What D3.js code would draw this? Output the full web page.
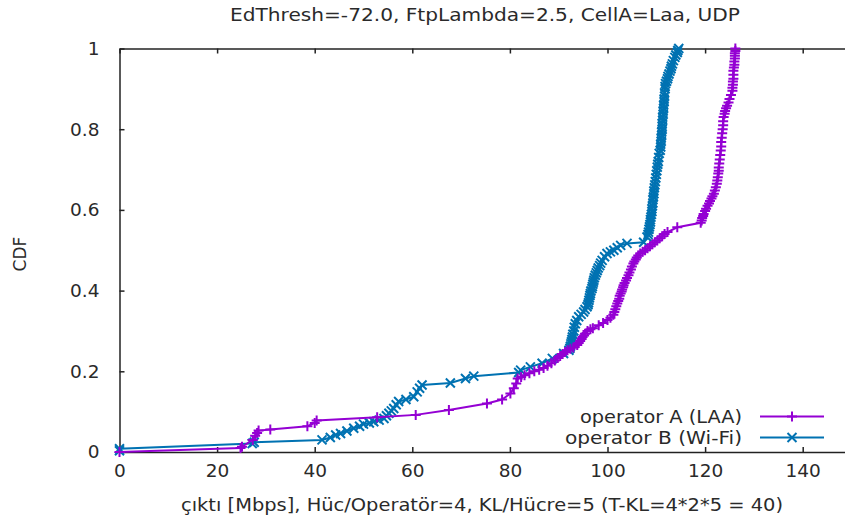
<!DOCTYPE html>
<html>
<head>
<meta charset="utf-8">
<script src="https://cdn.jsdelivr.net/npm/d3@7"></script>
<style>
  body { margin: 0; background: #fff; }
  text { font-family: "DejaVu Sans", sans-serif; fill: #2a2a2a; }
</style>
</head>
<body>
<script>
// CDF of throughput per operator

// operator A (LAA): throughput [Mbps] and CDF value
let laaX = [0, 24.8, 25.1, 27.3, 27.8, 28.2, 28.5, 30.9, 38.5, 40.0, 40.4, 52.8, 60.7, 67.5, 75.3, 78.4,
  80.1, 80.8, 81.3, 81.6, 82.3, 83.0, 84.0, 85.0, 86.0, 86.9, 87.7, 88.5, 89.2, 89.8, 90.3, 90.8, 91.3, 91.8,
  92.4, 93.0, 93.8, 94.1, 94.4, 94.7, 94.9, 95.2, 95.4, 95.9, 96.5, 97.0, 98.2, 99.1, 100.0, 100.6, 101.2,
  101.4, 101.6, 101.8, 102.0, 102.2, 102.4, 102.5, 102.7, 102.9, 103.0, 103.2, 103.3, 103.5, 103.8, 104.0,
  104.3, 104.5, 104.8, 105.0, 105.3, 105.5, 105.8, 106.0, 106.3, 106.7, 107.2, 107.7, 108.2, 108.7, 109.2,
  109.7, 110.2, 110.7, 111.2, 111.7, 112.3, 114.3,
  119.1, 119.3, 119.4, 119.6, 119.7, 120.0, 120.2, 120.5, 120.8, 121.0, 121.3, 121.5, 121.8, 122.0, 122.2,
  122.4, 122.5, 122.6, 122.7, 122.8, 122.8, 122.9, 123.0, 123.1, 123.2, 123.3, 123.3, 123.4, 123.5, 123.6,
  123.7, 123.7, 123.8, 124.0, 124.1, 124.3, 124.5, 124.8, 125.0, 125.3, 125.6, 125.6, 125.7, 125.7, 125.8,
  125.8, 125.8, 125.9, 126.0, 126.0, 126.1, 126.1, 126.1, 126.2, 126.2];
let laaY = [0, 0.01, 0.013, 0.03, 0.04, 0.047, 0.053, 0.056, 0.064, 0.072, 0.078, 0.086, 0.092, 0.104, 0.12, 0.13,
  0.145, 0.158, 0.17, 0.182, 0.186, 0.19, 0.195, 0.2, 0.204, 0.208, 0.214, 0.22, 0.227, 0.233, 0.238, 0.243, 0.248, 0.252,
  0.256, 0.259, 0.265, 0.27, 0.275, 0.28, 0.285, 0.289, 0.293, 0.30, 0.304, 0.307, 0.314, 0.32, 0.327, 0.333, 0.34,
  0.347, 0.354, 0.361, 0.368, 0.374, 0.38, 0.387, 0.393, 0.398, 0.403, 0.408, 0.413, 0.419, 0.425, 0.431,
  0.438, 0.445, 0.452, 0.46, 0.467, 0.472, 0.477, 0.482, 0.487, 0.492, 0.496, 0.5, 0.505, 0.51, 0.515,
  0.52, 0.524, 0.53, 0.535, 0.54, 0.545, 0.557,
  0.568, 0.574, 0.58, 0.585, 0.59, 0.597, 0.603, 0.61, 0.616, 0.622, 0.628, 0.634, 0.64, 0.648, 0.656,
  0.665, 0.673, 0.681, 0.69, 0.697, 0.705, 0.715, 0.725, 0.736, 0.747, 0.757, 0.768, 0.779, 0.79, 0.8,
  0.81, 0.82, 0.83, 0.838, 0.845, 0.852, 0.858, 0.866, 0.875, 0.885, 0.895, 0.903, 0.91, 0.918, 0.925,
  0.935, 0.945, 0.953, 0.96, 0.968, 0.975, 0.982, 0.988, 0.994, 1.0];

// operator B (Wi-Fi)
let wifiX = [0, 0, 27.2, 27.6, 41.5, 43.2, 44.3, 45.3, 46.6, 48.0, 49.2, 50.0, 51.2, 52.1, 53.2, 54.2,
  54.7, 55.2, 55.7, 56.2, 56.7, 57.2, 58.7, 60.3, 61.0, 61.5, 62.0, 67.8, 70.9, 72.6, 81.8, 82.2, 84.2,
  86.6, 88.7, 91.0, 92.1, 92.3, 92.4, 92.5, 92.6, 92.7, 92.8, 92.9, 93.1, 93.2, 93.4, 93.7, 94.1, 94.6,
  95.1, 95.4, 95.8, 96.0, 96.1, 96.2, 96.3, 96.4, 96.5, 96.6, 96.8, 96.9, 97.0, 97.1, 97.2, 97.3, 97.5,
  97.7, 97.9, 98.1, 98.4, 98.6, 98.9, 99.4, 99.9, 100.6, 101.3, 102.0, 102.7, 104.0, 107.4,
  108.1, 108.3, 108.4, 108.5, 108.6, 108.7, 108.8, 108.8, 108.9, 109.0, 109.1, 109.1, 109.2, 109.3, 109.3,
  109.4, 109.5, 109.5, 109.6, 109.7, 109.8, 109.9, 110.0, 110.1, 110.2, 110.3, 110.4, 110.5, 110.6, 110.8,
  110.9, 110.9, 111.0, 111.0, 111.1, 111.1, 111.2, 111.2, 111.2, 111.3, 111.3, 111.4, 111.4, 111.5, 111.5,
  111.6, 111.6, 111.7, 111.7, 111.8, 111.8, 111.9, 112.1, 112.3, 112.4, 112.6, 112.8, 113.0, 113.1, 113.3,
  113.5, 113.8, 114.0, 114.3, 114.4, 114.6];
let wifiY = [0.003, 0.008, 0.021, 0.024, 0.03, 0.036, 0.042, 0.046, 0.052, 0.059, 0.064, 0.069, 0.072, 0.075, 0.079, 0.083,
  0.09, 0.096, 0.102, 0.108, 0.117, 0.125, 0.13, 0.137, 0.149, 0.158, 0.166, 0.171, 0.182, 0.188, 0.197, 0.203, 0.211,
  0.22, 0.232, 0.244, 0.252, 0.257, 0.262, 0.268, 0.273, 0.279, 0.285, 0.292, 0.3, 0.309, 0.318, 0.326, 0.335, 0.341,
  0.347, 0.353, 0.36, 0.365, 0.37, 0.376, 0.382, 0.388, 0.393, 0.399, 0.405, 0.41, 0.416, 0.421, 0.426, 0.432, 0.438,
  0.444, 0.45, 0.456, 0.462, 0.468, 0.475, 0.484, 0.492, 0.496, 0.5, 0.506, 0.512, 0.517, 0.52,
  0.533, 0.539, 0.545, 0.552, 0.558, 0.564, 0.57, 0.576, 0.582, 0.589, 0.596, 0.603, 0.61, 0.617, 0.625,
  0.632, 0.64, 0.647, 0.655, 0.662, 0.67, 0.679, 0.688, 0.697, 0.706, 0.713, 0.72, 0.73, 0.74, 0.748,
  0.756, 0.763, 0.77, 0.778, 0.785, 0.793, 0.8, 0.807, 0.814, 0.822, 0.83, 0.837, 0.845, 0.852, 0.86,
  0.868, 0.875, 0.882, 0.89, 0.9, 0.906, 0.913, 0.919, 0.925, 0.931, 0.937, 0.944, 0.95, 0.956, 0.962,
  0.97, 0.978, 0.984, 0.99, 0.995, 1.0];

let xTicks = [0, 20, 40, 60, 80, 100, 120, 140];
let yTicks = [0, 0.2, 0.4, 0.6, 0.8, 1];
let seriesNames = ['operator A (LAA)', 'operator B (Wi-Fi)'];
let seriesColors = ['#9400d3', '#0072b2'];

let width = 845,
  height = 520;

let svg = d3.select('body')
  .append('svg')
    .attr('width', width)
    .attr('height', height);

// scales -- x axis runs past the right edge of the picture (0..150)
let x = d3.scaleLinear().domain([0, 150]).range([119.5, 851.5]);
let y = d3.scaleLinear().domain([0, 1]).range([452, 48.5]);

// axes, ticks pointing inwards
svg.append('g')
    .attr('transform', 'translate(0,452)')
    .call(d3.axisBottom(x).tickValues(xTicks).tickSizeInner(-5).tickSizeOuter(0).tickPadding(12))
    .call(g => g.selectAll('text').style('font-size', '18.5px').attr('fill', '#2a2a2a'));

svg.append('g')
    .attr('transform', 'translate(0,48.5)')
    .call(d3.axisTop(x).tickValues(xTicks).tickSizeInner(-5).tickSizeOuter(0).tickFormat(''));

svg.append('g')
    .attr('transform', 'translate(119.5,0)')
    .call(d3.axisLeft(y).tickValues(yTicks).tickSizeInner(-5).tickSizeOuter(0).tickPadding(20)
      .tickFormat(d => d3.format('')(d)))
    .call(g => g.selectAll('text').style('font-size', '18.5px').attr('fill', '#2a2a2a'));

svg.selectAll('.domain, .tick line').attr('stroke', '#222').attr('stroke-width', 1.5);
svg.selectAll('.tick text').attr('font-family', '"DejaVu Sans", sans-serif');

// titles
svg.append('text')
    .attr('x', 485).attr('y', 21)
    .attr('text-anchor', 'middle')
    .style('font-size', '17px')
    .attr('textLength', 510).attr('lengthAdjust', 'spacingAndGlyphs')
    .text('EdThresh=-72.0, FtpLambda=2.5, CellA=Laa, UDP');

svg.append('text')
    .attr('x', 482).attr('y', 511)
    .attr('text-anchor', 'middle')
    .style('font-size', '17px')
    .attr('textLength', 602).attr('lengthAdjust', 'spacingAndGlyphs')
    .text('çıktı [Mbps], Hüc/Operatör=4, KL/Hücre=5 (T-KL=4*2*5 = 40)');

svg.append('text')
    .attr('transform', 'translate(26,254) rotate(-90)')
    .attr('text-anchor', 'middle')
    .style('font-size', '17px')
    .text('CDF');

// markers
function plus(g, s) {
  g.append('path').attr('d', `M${-s},0H${s}M0,${-s}V${s}`);
}
function cross(g, s) {
  g.append('path').attr('d', `M${-s},${-s}L${s},${s}M${-s},${s}L${s},${-s}`);
}

let series = [
  { pts: d3.zip(laaX, laaY), mark: plus, size: 5 },
  { pts: d3.zip(wifiX, wifiY), mark: cross, size: 4.5 }
];

let line = d3.line().x(d => x(d[0])).y(d => y(d[1]));

// B drawn first so A sits on top where they cross
[1, 0].forEach(i => {
  let s = series[i];
  let g = svg.append('g')
      .attr('stroke', seriesColors[i])
      .attr('fill', 'none')
      .attr('stroke-width', 2);
  g.append('path').attr('d', line(s.pts));
  s.pts.forEach(p => {
    let m = g.append('g').attr('transform', `translate(${x(p[0])},${y(p[1])})`);
    s.mark(m, s.size);
  });
});

// legend
let legendY = [416.5, 437.5];
let legendLen = [162, 177];
seriesNames.forEach((name, i) => {
  svg.append('text')
      .attr('x', 742).attr('y', legendY[i] + 6)
      .attr('text-anchor', 'end')
      .style('font-size', '17px')
      .attr('textLength', legendLen[i]).attr('lengthAdjust', 'spacingAndGlyphs')
      .text(name);
  let g = svg.append('g')
      .attr('stroke', seriesColors[i])
      .attr('fill', 'none')
      .attr('stroke-width', 2);
  g.append('line')
      .attr('x1', 760).attr('x2', 824)
      .attr('y1', legendY[i]).attr('y2', legendY[i]);
  let m = g.append('g').attr('transform', `translate(792,${legendY[i]})`);
  series[i].mark(m, series[i].size);
});
</script>
</body>
</html>
